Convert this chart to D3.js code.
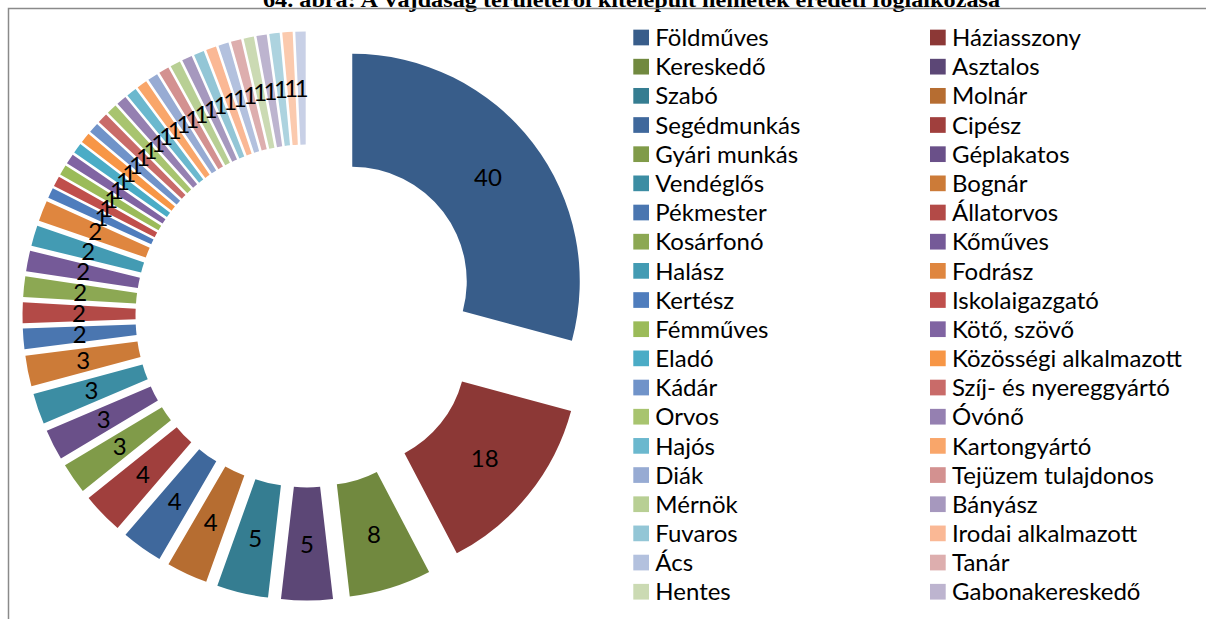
<!DOCTYPE html>
<html>
<head>
<meta charset="utf-8">
<script src="https://cdn.jsdelivr.net/npm/d3@7"></script>
<style>
  html, body { margin: 0; padding: 0; background: #fff; }
  svg { display: block; }
</style>
</head>
<body>
<svg id="chart" width="1206" height="619"></svg>
<script>
// Occupations of the Germans resettled from Vojvodina (counts of persons)
const title = "64. ábra: A Vajdaság területéről kitelepült németek eredeti foglalkozása";

// Named categories (the legend lists these; the last three slices have no legend row)
const categories = [
  "Földműves", "Háziasszony", "Kereskedő", "Asztalos", "Szabó", "Molnár",
  "Segédmunkás", "Cipész", "Gyári munkás", "Géplakatos", "Vendéglős", "Bognár",
  "Pékmester", "Állatorvos", "Kosárfonó", "Kőműves", "Halász", "Fodrász",
  "Kertész", "Iskolaigazgató", "Fémműves", "Kötő, szövő", "Eladó", "Közösségi alkalmazott",
  "Kádár", "Szíj- és nyereggyártó", "Orvos", "Óvónő", "Hajós", "Kartongyártó",
  "Diák", "Tejüzem tulajdonos", "Mérnök", "Bányász", "Fuvaros", "Irodai alkalmazott",
  "Ács", "Tanár", "Hentes", "Gabonakereskedő"
];

const values = [
  40, 18, 8, 5, 5, 4,
  4, 4, 3, 3, 3, 3,
  2, 2, 2, 2, 2, 2,
  1, 1, 1, 1, 1, 1,
  1, 1, 1, 1, 1, 1,
  1, 1, 1, 1, 1, 1,
  1, 1, 1, 1, 1, 1,
  1
];

const colors = [
  "#385d8a", "#8c3836", "#71893f", "#5c4776", "#357d91", "#b66d31",
  "#3f689c", "#a03f3d", "#809b49", "#6a5089", "#3c8da3", "#cc7b38",
  "#4a76b0", "#b34a47", "#8ca853", "#755a98", "#439bb3", "#df863f",
  "#4f7dbd", "#c04f4c", "#9bbb59", "#8064a2", "#4bacc6", "#f79646",
  "#7093c9", "#c96b69", "#a8c46f", "#9580b1", "#6bb8ce", "#f9a66a",
  "#97abd3", "#d39190", "#b8cf94", "#a698be", "#93c6d6", "#fab895",
  "#b3c1de", "#ddaeae", "#cbdab3", "#bdb4cf", "#add3df", "#fbcaae",
  "#c8d0e6"
];

const svg = d3.select("#chart");
const W = 1206, H = 619;

svg.append("rect").attr("width", W).attr("height", H).attr("fill", "#fff");

// Title (sits above the chart frame)
svg.append("text")
  .attr("x", 631.5)
  .attr("y", 7)
  .attr("text-anchor", "middle")
  .attr("font-family", "Liberation Serif, Times New Roman, serif")
  .attr("font-weight", "bold")
  .attr("font-size", 22)
  .attr("textLength", 737)
  .attr("lengthAdjust", "spacingAndGlyphs")
  .attr("fill", "#000")
  .text(title);

// Chart frame
svg.append("path")
  .attr("d", `M8.5,${H} V8.5 H${W}`)
  .attr("fill", "none")
  .attr("stroke", "#8a8a8a")
  .attr("stroke-width", 1.5);

// Exploded doughnut
const cx = 307, cy = 316;
const outerR = 227.5, innerR = 114.5, explode = 57;

const pie = d3.pie().sort(null).value(d => d).startAngle(0).endAngle(2 * Math.PI);
const arcs = pie(values);
const arc = d3.arc().innerRadius(innerR).outerRadius(outerR);

const g = svg.append("g").attr("transform", `translate(${cx},${cy})`);

const offset = a => {
  const m = (a.startAngle + a.endAngle) / 2;
  return [Math.sin(m) * explode, -Math.cos(m) * explode];
};

g.selectAll("path.slice")
  .data(arcs)
  .join("path")
  .attr("class", "slice")
  .attr("d", arc)
  .attr("fill", (d, i) => colors[i % colors.length])
  .attr("transform", d => { const [dx, dy] = offset(d); return `translate(${dx},${dy})`; });

g.selectAll("text.value")
  .data(arcs)
  .join("text")
  .attr("class", "value")
  .attr("transform", d => {
    const [dx, dy] = offset(d);
    const [x, y] = arc.centroid(d);
    return `translate(${x + dx},${y + dy})`;
  })
  .attr("text-anchor", "middle")
  .attr("dy", "0.36em")
  .attr("font-family", "Lato, Open Sans, sans-serif")
  .attr("font-size", 24)
  .attr("fill", "#000")
  .text(d => d.data);

// Legend: two columns, filled row by row
const legend = svg.append("g");
const rowStep = 29.17, firstRow = 37.5, sw = 15.7;
const colX = [633.3, 930];

const items = legend.selectAll("g.item")
  .data(categories)
  .join("g")
  .attr("class", "item")
  .attr("transform", (d, i) => `translate(${colX[i % 2]},${firstRow + Math.floor(i / 2) * rowStep})`);

items.append("rect")
  .attr("x", 0)
  .attr("y", -sw / 2)
  .attr("width", sw)
  .attr("height", sw)
  .attr("fill", (d, i) => colors[i]);

items.append("text")
  .attr("x", 22)
  .attr("dy", "0.36em")
  .attr("font-family", "Lato, Open Sans, sans-serif")
  .attr("font-size", 24)
  .attr("fill", "#000")
  .text(d => d);
</script>
</body>
</html>
